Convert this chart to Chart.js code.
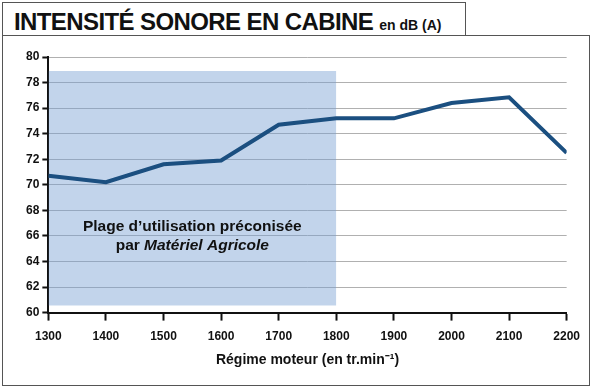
<!DOCTYPE html>
<html>
<head>
<meta charset="utf-8">
<script src="https://cdn.jsdelivr.net/npm/chart.js@4/dist/chart.umd.min.js"></script>
<style>
  body { margin: 0; background: #fff; font-family: "Liberation Sans", Arial, sans-serif; }
  #page { position: relative; width: 592px; height: 388px; }
  #titlebox { position: absolute; left: 2px; top: 2px; width: 462px; height: 33px; border: 1px solid #555; border-bottom: none; background: #fff; }
  #title { position: absolute; left: 11px; top: 5px; font-size: 24px; font-weight: bold; color: #111; letter-spacing: -0.6px; white-space: nowrap; }
  #title small { font-size: 14px; letter-spacing: 0; }
  #frame { position: absolute; left: 2px; top: 35px; width: 586px; height: 349px; border: 1px solid #555; }
  canvas { position: absolute; left: 0; top: 0; }
</style>
</head>
<body>
<div id="page">
  <div id="titlebox"><div id="title">INTENSITÉ SONORE EN CABINE <small>en dB (A)</small></div></div>
  <div id="frame"><canvas id="out" width="586" height="349"></canvas></div>
</div>
<script>
// régime moteur (tr/min) et intensité sonore (dB A)
const rpm = [1300, 1400, 1500, 1600, 1700, 1800, 1900, 2000, 2100, 2200];
const noise = [70.7, 70.2, 71.6, 71.9, 74.7, 75.2, 75.2, 76.4, 76.85, 72.5];
// plage conseillée
const rangeX = [1300, 1800];
const rangeTop = 78.9;
const rangeBottom = 60.55;
const rangeText = ["Plage d\u2019utilisation préconisée", "par "];
const rangeTextItalic = "Matériel Agricole";

const canvasCtx = document.getElementById("out").getContext("2d");

// texte dans la zone bleue
const rangeLabel = {
  id: "rangeLabel",
  afterDatasetsDraw(chart) {
    const ctx = chart.ctx;
    const x = chart.scales.x.getPixelForValue(1550);
    const y1 = chart.scales.y.getPixelForValue(66.7);
    const y2 = chart.scales.y.getPixelForValue(65.2);
    ctx.save();
    ctx.fillStyle = "#111";
    ctx.textAlign = "center";
    ctx.textBaseline = "middle";
    ctx.font = "bold 15.5px 'Liberation Sans'";
    ctx.fillText(rangeText[0], x, y1);
    const w1 = ctx.measureText(rangeText[1]).width;
    ctx.font = "italic bold 15.5px 'Liberation Sans'";
    const w2 = ctx.measureText(rangeTextItalic).width;
    const start = x - (w1 + w2) / 2;
    ctx.textAlign = "left";
    ctx.fillText(rangeTextItalic, start + w1, y2);
    ctx.font = "bold 15.5px 'Liberation Sans'";
    ctx.fillText(rangeText[1], start, y2);
    ctx.restore();
  }
};

const chartConfig = {
  type: "line",
  data: {
    datasets: [
      {
        data: rpm.map((r, i) => ({ x: r, y: noise[i] })),
        borderColor: "#1b4f80",
        borderWidth: 4,
        pointRadius: 0,
        tension: 0,
        fill: false,
        order: 0
      },
      {
        data: rangeX.map(r => ({ x: r, y: rangeTop })),
        borderWidth: 0,
        pointRadius: 0,
        backgroundColor: "rgba(120,160,210,0.45)",
        fill: { value: rangeBottom },
        order: 1
      }
    ]
  },
  options: {
    responsive: false,
    animation: false,
    layout: { padding: { left: 20, right: 18, top: 21, bottom: 14 } },
    plugins: { legend: { display: false }, tooltip: { enabled: false } },
    scales: {
      x: {
        type: "linear",
        min: 1300,
        max: 2200,
        ticks: { stepSize: 100, color: "#111", font: { family: "Liberation Sans", size: 12, weight: "bold" }, padding: 9, maxRotation: 0,
          callback: v => String(v) },
        grid: { color: "rgba(0,0,0,0)", tickColor: "#111", tickLength: 8, tickWidth: 2 },
        border: { display: true, color: "#111", width: 2 },
        title: { display: true, text: "Régime moteur (en tr.min\u207B\u00B9)", color: "#111",
          font: { family: "Liberation Sans", size: 14, weight: "bold", lineHeight: 1 }, padding: { top: 0 } }
      },
      y: {
        min: 60,
        max: 80,
        ticks: { stepSize: 2, color: "#111", font: { family: "Liberation Sans", size: 12, weight: "bold" }, padding: 3 },
        grid: { color: "#b0b0b0", lineWidth: 1, tickColor: "#111", tickLength: 6, tickWidth: 2 },
        border: { display: true, color: "#111", width: 2 }
      }
    }
  },
  plugins: [rangeLabel]
};

window.chart = new Chart(canvasCtx, chartConfig);
</script>
</body>
</html>
